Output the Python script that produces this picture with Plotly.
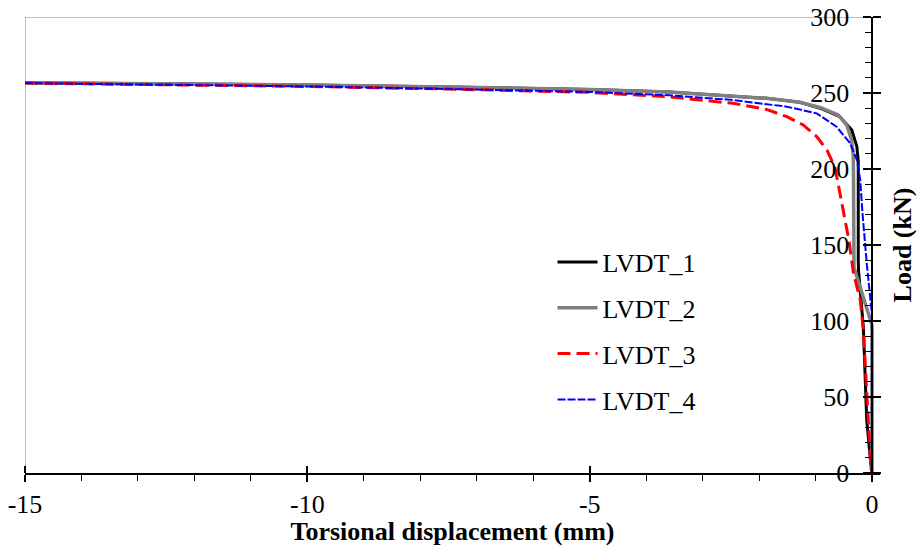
import plotly.graph_objects as go

# ---------------- data ----------------
lvdt1_x = [-15, -12.5, -10, -7.5, -5, -3.6, -2.5, -1.87, -1.28, -0.92, -0.57, -0.36, -0.27, -0.245, -0.245, -0.24, -0.155, -0.095, -0.02, 0]
lvdt1_y = [256.8, 256.1, 255.3, 254.0, 252.3, 250.6, 248.2, 246.5, 243.9, 240.0, 234.4, 225.6, 214.7, 205, 140, 133, 96, 35, 5, 0]

lvdt2_x = [-15, -12.5, -10, -7.5, -5, -3.6, -2.5, -1.87, -1.28, -0.92, -0.6, -0.45, -0.37, -0.335, -0.33, -0.32, -0.21, 0, 0]
lvdt2_y = [256.8, 256.1, 255.3, 254.0, 252.3, 250.6, 248.2, 246.5, 243.9, 240.5, 235.5, 229, 220, 210, 200, 135, 122, 97, 0]

lvdt3_x = [-15, -12.5, -10, -7.5, -5, -3.64, -2.46, -1.87, -1.51, -1.22, -0.98, -0.80, -0.66, -0.6, -0.41, -0.33, -0.21, -0.155, -0.07, -0.02, 0]
lvdt3_y = [256.5, 255.4, 254.3, 252.6, 250.4, 247.6, 243.2, 239.2, 234.4, 229, 221.3, 212.5, 201.5, 190, 153, 131.6, 114, 94, 35, 3, 0]

lvdt4_x = [-15, -12.5, -10, -7.5, -5, -3.6, -2.46, -1.51, -0.98, -0.63, -0.39, -0.27, -0.21, -0.17, -0.095, -0.005, -0.005]
lvdt4_y = [256.5, 255.4, 254.3, 252.6, 250.7, 248.5, 245.4, 241, 236.6, 227.8, 216.9, 206, 192.8, 171, 138, 105, 0]

series_names = ["LVDT_1", "LVDT_2", "LVDT_3", "LVDT_4"]

x_tickvals = [-15, -10, -5, 0]
y_tickvals = [0, 50, 100, 150, 200, 250, 300]

x_range = [-15, 0.14]
y_range = [0, 300]

SERIF = "Liberation Serif, Times New Roman, serif"

# ---------------- figure ----------------
fig = go.Figure()

styles = [
    dict(color="black", width=3, dash="solid"),
    dict(color="#808080", width=3.5, dash="solid"),
    dict(color="#ff0000", width=3, dash="13px,6px"),
    dict(color="#0000ff", width=2, dash="8px,2px"),
]
data = [(lvdt1_x, lvdt1_y), (lvdt2_x, lvdt2_y), (lvdt3_x, lvdt3_y), (lvdt4_x, lvdt4_y)]

for name, (xs, ys), st in zip(series_names, data, styles):
    fig.add_trace(go.Scatter(x=xs, y=ys, mode="lines", name=name, legendgroup=name,
                             line=st))

# empty trace so the overlay axes (cross ticks / right title) get drawn
fig.add_trace(go.Scatter(x=[None], y=[None], xaxis="x2", yaxis="y2",
                         showlegend=False, hoverinfo="skip", mode="lines"))

y_pos = (0 - x_range[0]) / (x_range[1] - x_range[0])

tick_font = dict(family=SERIF, size=26, color="black")
title_font = dict(family=SERIF, size=26, color="black")

# grey plot-area border (top and left)
fig.add_shape(type="line", xref="x", yref="y", x0=-15, x1=0, y0=300, y1=300,
              line=dict(color="#a6a6a6", width=1.5), layer="below")
fig.add_shape(type="line", xref="x", yref="y", x0=-15, x1=-15, y0=0, y1=300,
              line=dict(color="#a6a6a6", width=1.5), layer="below")

fig.update_layout(
    width=920, height=546,
    margin=dict(l=25, r=40, t=17, b=73, autoexpand=False),
    paper_bgcolor="white", plot_bgcolor="white",
    font=dict(family=SERIF, size=26, color="black"),
    showlegend=True,
    legend=dict(x=0.617, y=0.514, xanchor="left", yanchor="top",
                font=dict(family=SERIF, size=26, color="black"),
                bgcolor="rgba(0,0,0,0)", traceorder="grouped", tracegroupgap=9,
                itemwidth=40),
    xaxis=dict(range=x_range, showgrid=False, zeroline=False,
               showline=True, linecolor="black", linewidth=1.5,
               ticks="outside", ticklen=7, tickwidth=1.5, tickcolor="black",
               tickvals=x_tickvals, ticktext=[str(v) for v in x_tickvals],
               tickfont=tick_font, ticklabelstandoff=0,
               minor=dict(ticks="outside", ticklen=6, tickwidth=1.2, tickcolor="black", dtick=1, showgrid=False),
               title=dict(text="<b>Torsional displacement (mm)</b>", font=title_font, standoff=0),
               automargin=False),
    xaxis2=dict(range=x_range, overlaying="x", anchor="free", position=0, side="top",
                showgrid=False, zeroline=False, showline=False,
                ticks="outside", ticklen=7, tickwidth=1.5, tickcolor="black",
                tickvals=x_tickvals, showticklabels=False, automargin=False),
    yaxis=dict(range=y_range, anchor="free", position=y_pos, side="left",
               showgrid=False, zeroline=False,
               showline=True, linecolor="black", linewidth=1.5,
               ticks="outside", ticklen=8, tickwidth=1.5, tickcolor="black",
               tickvals=y_tickvals, ticktext=[str(v) for v in y_tickvals],
               tickfont=tick_font, ticklabelstandoff=9,
               minor=dict(ticks="outside", ticklen=6, tickwidth=1.2, tickcolor="black", dtick=10, showgrid=False),
               automargin=False),
    yaxis2=dict(range=y_range, overlaying="y", anchor="free", position=y_pos, side="right",
                showgrid=False, zeroline=False, showline=False,
                ticks="outside", ticklen=8, tickwidth=1.5, tickcolor="black",
                tickvals=y_tickvals, showticklabels=False,
                title=dict(text="<b>Load (kN)</b>", font=title_font, standoff=12),
                automargin=False),
)

fig.write_html("out.html")
